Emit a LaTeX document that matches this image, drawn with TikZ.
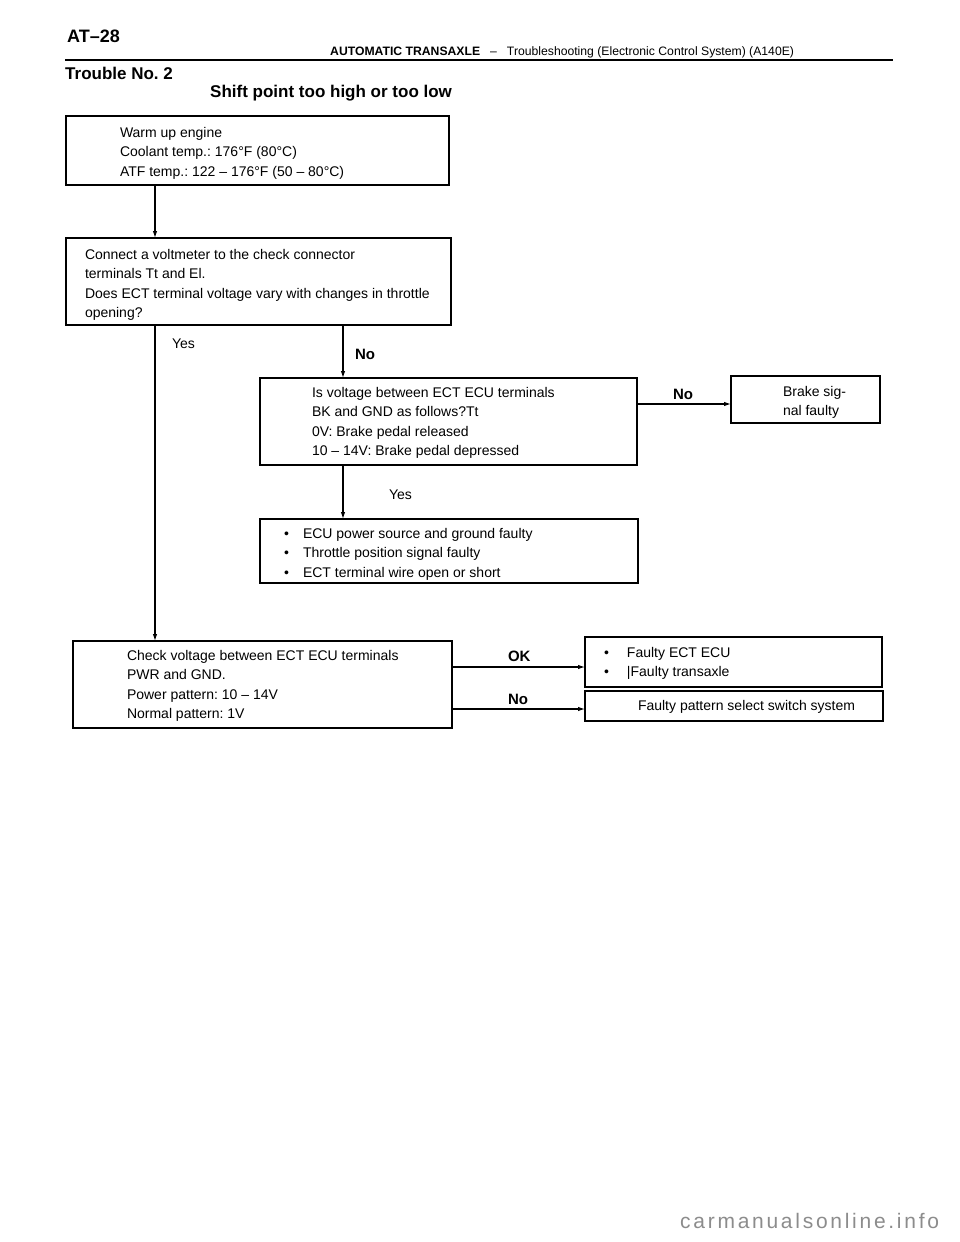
\documentclass[tikz,border=0pt]{standalone}
\usepackage{fontspec}
\setmainfont{Liberation Sans}
\usetikzlibrary{arrows.meta}
\frenchspacing
\begin{document}
\frenchspacing
\begin{tikzpicture}[x=1pt,y=-1pt,
  box/.style={draw, line width=1.8pt, inner sep=0pt, outer sep=0pt, anchor=north west},
  txt/.style={inner sep=0pt, outer sep=0pt, anchor=north west, align=left, font=\fontsize{14}{19.5}\selectfont},
  lbl/.style={inner sep=0pt, outer sep=0pt, anchor=base west, font=\fontsize{14}{16}\selectfont},
  blbl/.style={inner sep=0pt, outer sep=0pt, anchor=base west, font=\fontsize{15}{17}\selectfont\bfseries},
  arr/.style={line width=1.1pt, -{Latex[length=7pt,width=4.5pt]}},
  ln/.style={line width=1.1pt}]
\useasboundingbox (0,0) rectangle (960,1242);
\fill[white] (0,0) rectangle (960,1242);

% header
\node[inner sep=0pt, anchor=base west, font=\fontsize{18}{20}\selectfont\bfseries] (pg) at (67,42) {AT--28};
\node[inner sep=0pt, anchor=base west, font=\fontsize{12.2}{14}\selectfont] (hd) at (330,55) {\textbf{AUTOMATIC TRANSAXLE}\hspace{10pt}--\hspace{10pt}Troubleshooting (Electronic Control System) (A140E)};
\coordinate (hl) at (65,60);
\coordinate (hr) at (893,60);
\draw[line width=2.2pt] (hl) -- (hr);
\node[inner sep=0pt, anchor=base west, font=\fontsize{17}{18}\selectfont\bfseries] (tn) at (65,79) {Trouble No. 2};
\node[inner sep=0pt, anchor=base west, font=\fontsize{17}{18}\selectfont\bfseries] (ti) at (210,97) {Shift point too high or too low};

% boxes
\node[box, minimum width=383pt, minimum height=69pt] (b1) at (66,116) {};
\node[box, minimum width=385pt, minimum height=87pt] (b2) at (66,238) {};
\node[box, minimum width=377pt, minimum height=87pt] (b3) at (260,378) {};
\node[box, minimum width=149pt, minimum height=47pt] (b4) at (731,376) {};
\node[box, minimum width=378pt, minimum height=64pt] (b5) at (260,519) {};
\node[box, minimum width=379pt, minimum height=87pt] (b6) at (73,641) {};
\node[box, minimum width=297pt, minimum height=50pt] (b7) at (585,637) {};
\node[box, minimum width=298pt, minimum height=30pt] (b8) at (585,691) {};

% texts
\node[txt] (t1) at (120,126.5) {\rule{0pt}{10.5pt}Warm up engine\\Coolant temp.: 176°F (80°C)\\ATF temp.: 122 -- 176°F (50 -- 80°C)};
\node[txt] (t2) at (85,248.5) {\rule{0pt}{10.5pt}Connect a voltmeter to the check connector\\terminals Tt and El.\\Does ECT terminal voltage vary with changes in throttle\\opening?};
\node[txt] (t3) at (312,386.5) {\rule{0pt}{10.5pt}Is voltage between ECT ECU terminals\\BK and GND as follows?Tt\\0V: Brake pedal released\\10 -- 14V: Brake pedal depressed};
\node[txt] (t4) at (783,385.5) {\rule{0pt}{10.5pt}Brake sig-\\nal faulty};
\node[txt] (t5) at (284,527.5) {\rule{0pt}{10.5pt}\makebox[19pt][l]{•}ECU power source and ground faulty\\\makebox[19pt][l]{•}Throttle position signal faulty\\\makebox[19pt][l]{•}ECT terminal wire open or short};
\node[txt] (t6) at (127,649.5) {\rule{0pt}{10.5pt}Check voltage between ECT ECU terminals\\PWR and GND.\\Power pattern: 10 -- 14V\\Normal pattern: 1V};
\node[txt] (t7) at (604,646.5) {\rule{0pt}{10.5pt}\makebox[23pt][l]{•}Faulty ECT ECU\\\makebox[23pt][l]{•}|Faulty transaxle};
\node[txt] (t8) at (638,699.5) {\rule{0pt}{10.5pt}Faulty pattern select switch system};

% connector columns / rows
\coordinate (cA) at (155,0);
\coordinate (cB) at (343,0);
\coordinate (r1) at (0,404);
\coordinate (r2) at (0,667);
\coordinate (r3) at (0,709);

\draw[arr] (cA |- b1.south) -- (cA |- b2.north);
\draw[arr] (cA |- b2.south) -- (cA |- b6.north);
\draw[arr] (cB |- b2.south) -- (cB |- b3.north);
\draw[arr] (cB |- b3.south) -- (cB |- b5.north);
\draw[arr] (b3.east |- r1) -- (b4.west |- r1);
\draw[arr] (b6.east |- r2) -- (b7.west |- r2);
\draw[arr] (b6.east |- r3) -- (b8.west |- r3);

% labels
\node[lbl] (yes1) at (172,348) {Yes};
\node[blbl] (no1) at (355,359) {No};
\node[blbl] (no2) at (673,399) {No};
\node[lbl] (yes2) at (389,499) {Yes};
\node[blbl] (ok) at (508,661) {OK};
\node[blbl] (no3) at (508,704) {No};

% watermark
\node[inner sep=0pt, anchor=base west, text=black!45, font=\fontsize{21}{23}\selectfont\addfontfeature{LetterSpace=13}] (wm) at (680,1228) {carmanualsonline.info};
\end{tikzpicture}
\end{document}
